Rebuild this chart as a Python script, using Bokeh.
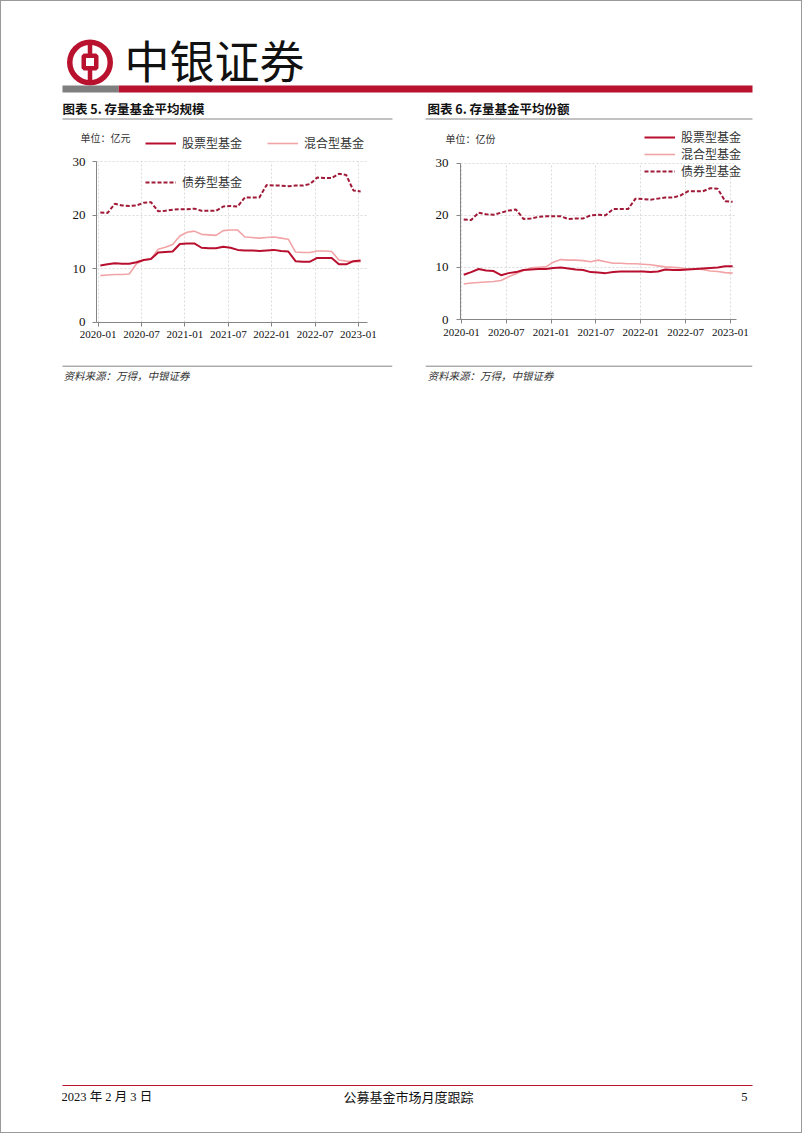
from bokeh.plotting import figure
from bokeh.layouts import column, row
from bokeh.models import Range1d, FixedTicker, Legend, LegendItem, Label
from bokeh.embed import file_html
from bokeh.resources import INLINE

# ---------------- data ----------------
months = [f"{y}-{m:02d}" for y in (2020, 2021, 2022, 2023) for m in range(1, 13)][:37]
tick_labels = ["2020-01", "2020-07", "2021-01", "2021-07", "2022-01", "2022-07", "2023-01"]
y_ticks = [0, 10, 20, 30]
series_names = ["股票型基金", "混合型基金", "债券型基金"]

# 图表5 存量基金平均规模（亿元）
stock_scale = [10.6, 10.8, 11.0, 10.9, 10.9, 11.2, 11.6, 11.8, 13.0, 13.1,
               13.2, 14.6, 14.7, 14.7, 13.9, 13.8, 13.8, 14.1, 13.9, 13.5,
               13.4, 13.4, 13.3, 13.4, 13.5, 13.3, 13.2, 11.4, 11.3, 11.3,
               12.0, 12.0, 12.0, 10.8, 10.8, 11.4, 11.5]
mixed_scale = [8.7, 8.8, 8.9, 8.9, 9.0, 10.9, 11.6, 11.8, 13.6, 14.0,
               14.5, 16.1, 16.8, 17.0, 16.4, 16.3, 16.2, 17.1, 17.2, 17.2,
               15.9, 15.8, 15.7, 15.8, 15.9, 15.7, 15.5, 13.1, 13.0, 13.0,
               13.3, 13.3, 13.2, 11.6, 11.4, 11.3, 11.3]
bond_scale = [20.5, 20.4, 22.1, 21.8, 21.7, 21.8, 22.3, 22.4, 20.7, 20.8,
              21.0, 21.1, 21.1, 21.2, 20.8, 20.8, 20.8, 21.6, 21.7, 21.6,
              23.3, 23.3, 23.3, 25.6, 25.5, 25.5, 25.4, 25.5, 25.5, 25.8,
              27.0, 26.9, 26.9, 27.7, 27.5, 24.6, 24.4]

# 图表6 存量基金平均份额（亿份）
stock_share = [8.6, 9.1, 9.7, 9.4, 9.3, 8.5, 8.9, 9.1, 9.5, 9.6,
               9.7, 9.7, 9.9, 10.0, 9.8, 9.6, 9.5, 9.1, 9.0, 8.9,
               9.1, 9.2, 9.2, 9.2, 9.2, 9.1, 9.2, 9.6, 9.5, 9.5,
               9.6, 9.7, 9.8, 9.9, 10.0, 10.2, 10.2]
mixed_share = [6.8, 7.0, 7.1, 7.2, 7.3, 7.5, 8.2, 8.8, 9.4, 9.9,
               10.0, 10.1, 11.0, 11.5, 11.4, 11.4, 11.3, 11.1, 11.4, 11.1,
               10.8, 10.8, 10.7, 10.7, 10.6, 10.5, 10.3, 10.1, 10.0, 9.9,
               9.7, 9.7, 9.6, 9.3, 9.2, 9.0, 8.9]
bond_share = [19.2, 19.1, 20.5, 20.2, 20.1, 20.5, 20.9, 21.1, 19.3, 19.4,
              19.7, 19.8, 19.8, 19.8, 19.3, 19.4, 19.4, 20.0, 20.1, 20.0,
              21.2, 21.2, 21.2, 23.2, 23.1, 23.0, 23.2, 23.4, 23.4, 23.8,
              24.6, 24.6, 24.6, 25.2, 25.1, 22.7, 22.6]

source_text = "资料来源：万得，中银证券"

# ---------------- styles ----------------
CJK = "Noto Sans CJK SC"
SERIF = "Liberation Serif"
RED = "#B8122E"
STOCK = "#B80F2F"
MIXED = "#F2A3A6"
BOND = "#A01A38"
GRAY = "#858585"
TXT = "#222222"

x_vals = [i + 0.3 for i in range(len(months))]
tick_pos = [months.index(t) for t in tick_labels]


def blank(width, height, y0, y1):
    p = figure(width=width, height=height, x_range=Range1d(0, width),
               y_range=Range1d(y1, y0), output_backend="svg",
               toolbar_location=None, min_border=0,
               x_axis_type=None, y_axis_type=None)
    p.grid.visible = False
    p.outline_line_color = None
    p.border_fill_color = None
    p.background_fill_color = None
    return p


def label(p, x, y, text, size, font=CJK, align="left", style="normal", color=TXT):
    p.add_layout(Label(x=x, y=y, text=text, text_font=font, text_font_size=size,
                       text_align=align, text_baseline="middle",
                       text_font_style=style, text_color=color))


# ---------------- header (page y 0..120) ----------------
hdr = blank(802, 120, 0, 120)
hdr.annulus(x=[89.5], y=[62], inner_radius=17.5, outer_radius=23,
            fill_color=RED, line_color=None)
hdr.rect(x=[89.5], y=[61.5], width=12.5, height=12.5, fill_color=None,
         line_color=RED, line_width=4.5)
hdr.segment(x0=[89.5, 89.5], y0=[40, 67.5], x1=[89.5, 89.5], y1=[55.5, 84],
            line_color=RED, line_width=4.5)
label(hdr, 124, 59, "中银证券", "45px", color="#111111")
hdr.quad(left=[62], right=[118.3], top=[85], bottom=[92], fill_color="#7F7F7F", line_color=None)
hdr.quad(left=[118.3], right=[752], top=[85], bottom=[92], fill_color=RED, line_color=None)
label(hdr, 62, 108, "图表 5. 存量基金平均规模", "12.5px", style="bold", color="#111111")
label(hdr, 427, 108, "图表 6. 存量基金平均份额", "12.5px", style="bold", color="#111111")
hdr.segment(x0=[62, 425], y0=[118.5, 118.5], x1=[392, 752], y1=[118.5, 118.5],
            line_color=GRAY, line_width=1)


# ---------------- charts (page y 120..415) ----------------
H = 295


def make_chart(stock, mixed, bond, unit, g, legend_cfg):
    pw = g["width"]
    fl, fr, ft, fb = g["frame_l"], g["frame_r"], g["frame_t"], g["frame_b"]
    ax_px, x0_val, ppx = g["axis_px"], g["axis_val"], g["ppx"]
    y30_px, y0_px = g["y30_px"], g["y0_px"]
    ppy = (y0_px - y30_px) / 30.0
    xs = x0_val - (ax_px - fl) / ppx
    xe = x0_val + (fr - ax_px) / ppx
    ys = -(fb - y0_px) / ppy
    ye = (y0_px - ft) / ppy
    x_axis_end = g["x_axis_end"]

    def dx(px):
        return xs + (px - fl) / ppx

    def dy(py):
        return (y0_px - py) / ppy

    p = figure(width=pw, height=H, x_range=Range1d(xs, xe), y_range=Range1d(ys, ye),
               output_backend="svg", toolbar_location=None,
               min_border_left=fl, min_border_right=pw - fr,
               min_border_top=ft, min_border_bottom=H - fb)
    p.outline_line_color = None
    p.background_fill_color = None
    p.border_fill_color = None
    xt = FixedTicker(ticks=tick_pos)
    yt = FixedTicker(ticks=y_ticks)
    p.xaxis.ticker = xt
    p.yaxis.ticker = yt
    p.xgrid.ticker = xt
    p.ygrid.ticker = yt
    p.xaxis.major_label_overrides = {t: l for t, l in zip(tick_pos, tick_labels)}
    p.yaxis.fixed_location = x0_val
    p.xaxis.fixed_location = 0
    p.yaxis.bounds = (0, 30)
    p.xaxis.bounds = (x0_val, x_axis_end)
    try:
        p.xgrid.cross_bounds = (0, 30)
        p.ygrid.cross_bounds = (x0_val, x_axis_end)
    except Exception:
        pass
    for gr in (p.xgrid, p.ygrid):
        gr.grid_line_color = "#DADADA"
        gr.grid_line_dash = "2 2"
        gr.grid_line_width = 1
    for ax in (p.xaxis, p.yaxis):
        ax.axis_line_color = GRAY
        ax.major_tick_line_color = GRAY
        ax.major_tick_out = 4
        ax.major_tick_in = 0
        ax.minor_tick_line_color = None
        ax.major_label_text_font = SERIF
        ax.major_label_text_color = "#111111"
    p.xaxis.major_label_text_font_size = "11px"
    p.xaxis.major_label_standoff = 5
    p.yaxis.major_label_text_font_size = "13px"
    p.yaxis.major_label_standoff = g["y_standoff"]

    r_mixed = p.line(x_vals, mixed, line_color=MIXED, line_width=1.6)
    r_bond = p.line(x_vals, bond, line_color=BOND, line_width=2, line_dash="4 2")
    r_stock = p.line(x_vals, stock, line_color=STOCK, line_width=2)
    rmap = {series_names[0]: r_stock, series_names[1]: r_mixed, series_names[2]: r_bond}

    for names, left_px, bottom_py, orient, spacing, gh in legend_cfg:
        leg = Legend(items=[LegendItem(label=n, renderers=[rmap[n]]) for n in names],
                     location=(left_px - fl, fb - bottom_py), orientation=orient,
                     spacing=spacing, padding=0, margin=0, glyph_width=31,
                     glyph_height=gh, label_height=gh, label_standoff=6,
                     border_line_color=None, background_fill_alpha=0,
                     label_text_font=CJK, label_text_font_size="12px",
                     label_text_color="#333333")
        p.add_layout(leg)

    # unit label
    p.add_layout(Label(x=dx(unit[1]), y=dy(unit[2]), text=unit[0], text_font=CJK,
                       text_font_size="10px", text_baseline="middle",
                       text_color="#333333"))
    # source rule and note under the chart
    sl, sr, sy, tx, ty = g["source"]
    p.segment(x0=[dx(sl)], y0=[dy(sy)], x1=[dx(sr)], y1=[dy(sy)],
              line_color=GRAY, line_width=1)
    p.add_layout(Label(x=dx(tx), y=dy(ty), text=source_text, text_font=CJK,
                       text_font_size="10.5px", text_font_style="italic",
                       text_baseline="middle", text_color="#333333"))
    return p


# chart 1: page x 0..395 ; chart 2: page x 395..802 ; local y = page y - 120
g1 = dict(width=395, frame_l=40, frame_r=392, frame_t=2, frame_b=265,
          axis_px=96, axis_val=-0.23, ppx=7.23, y30_px=41, y0_px=201.7,
          x_axis_end=37.25, y_standoff=7,
          source=(62, 392, 245.7, 63, 255))
g2 = dict(width=407, frame_l=30, frame_r=357, frame_t=2, frame_b=265,
          axis_px=65, axis_val=-0.13, ppx=7.47, y30_px=42.7, y0_px=199,
          x_axis_end=36.8, y_standoff=8,
          source=(30, 357, 245.7, 32, 255))

c1 = make_chart(stock_scale, mixed_scale, bond_scale, ("单位：亿元", 80, 17), g1,
                [([series_names[0], series_names[1]], 145, 31, "horizontal", 25, 16),
                 ([series_names[2]], 145, 70, "vertical", 0, 16)])
c2 = make_chart(stock_share, mixed_share, bond_share, ("单位：亿份", 50, 18), g2,
                [(series_names, 249, 59, "vertical", 0, 14)])

# ---------------- footer (page y 415..1133) ----------------
ftr = blank(802, 718, 415, 1133)
ftr.segment(x0=[62], y0=[1085], x1=[752], y1=[1085], line_color=RED, line_width=1)
label(ftr, 61, 1096, "2023 年 2 月 3 日", "12.5px", font=f"{SERIF}, {CJK}", color="#111111")
label(ftr, 408, 1096, "公募基金市场月度跟踪", "13px", align="center", color="#111111")
label(ftr, 747, 1096, "5", "12.5px", font=SERIF, align="right", color="#111111")

page = column(hdr, row(c1, c2, spacing=0), ftr, spacing=0,
              styles={"outline": "1px solid #9a9a9a", "outline-offset": "-1px"})

open("out.html", "w").write(file_html(page, INLINE))
